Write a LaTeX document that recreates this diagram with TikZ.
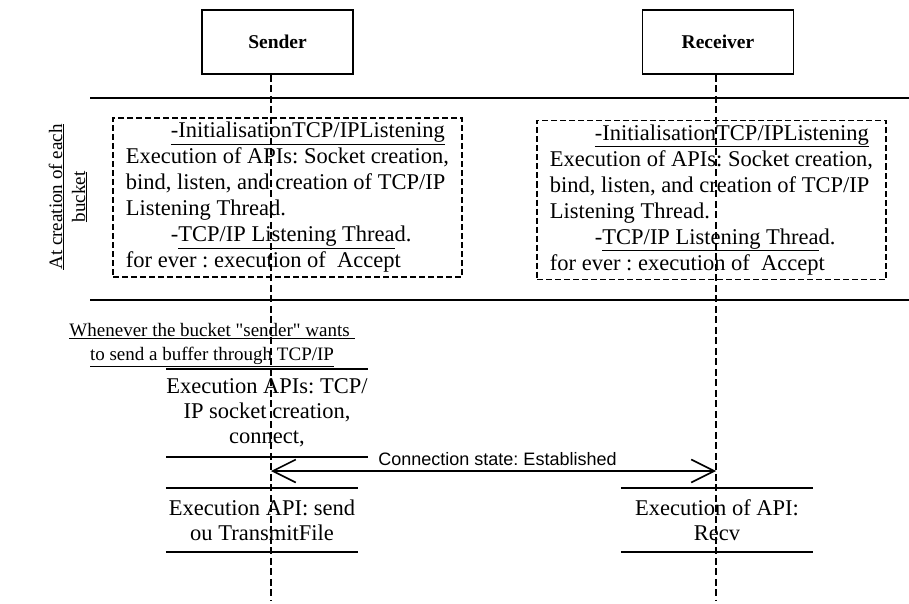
\documentclass[tikz,border=0pt]{standalone}
\usepackage{fontspec}
\setmainfont{Liberation Serif}
\newfontfamily\labelfont{Liberation Sans}
\usetikzlibrary{arrows.meta,positioning,calc}
\frenchspacing
% straight double quote, bypassing the TeX ligature mapping
\newcommand{\sq}{\XeTeXglyph\XeTeXcharglyph"22\relax}

\begin{document}
\begin{tikzpicture}[x=1pt,y=-1pt]
    % Define styles
    \tikzstyle{actor}=[rectangle, draw, line width=1.6pt, minimum width=151pt, minimum height=64pt, font=\fontsize{19.5}{22}\selectfont\bfseries]
    \tikzstyle{lifeline}=[line width=1.6pt, dash pattern=on 7pt off 3.5pt]
    \tikzstyle{phase}=[line width=1.8pt]
    \tikzstyle{init box}=[rectangle, draw, line width=1.5pt, dash pattern=on 6pt off 3pt, minimum width=349pt, minimum height=159pt, align=left, font=\fontsize{22.5}{26}\selectfont]
    \tikzstyle{api}=[align=center, inner sep=0pt, minimum width=192pt, font=\fontsize{22.5}{25}\selectfont]
    \tikzstyle{caption}=[align=center, inner sep=0pt, font=\fontsize{19}{24}\selectfont]
    \tikzstyle{msg}=[line width=1.6pt, {Straight Barb[length=23pt,width=23pt]}-{Straight Barb[length=23pt,width=23pt]}]

    \useasboundingbox (0,0) rectangle (909,604);

    % Participants
    \node[actor] (sender) at (277.5,42) {Sender};
    \node[actor] (receiver) at (718,42) {Receiver};
    \coordinate (sender-end) at (271,600);
    \coordinate (receiver-end) at (716,600);

    % Phase separators
    \draw[phase] (90,98) -- (909,98);
    \draw[phase] (90,300) -- (909,300);
    \node[caption, rotate=90, font=\fontsize{19}{23}\selectfont] (creation) at (68,197)
        {\underline{At creation of each}\\\underline{bucket}};

    % Initialisation on both sides
    \node[init box] (init-s) at (287.5,197.5) {%
        \hspace*{45pt}\underline{-InitialisationTCP/IPListening}\\
        Execution of APIs: Socket creation,\\
        bind, listen, and creation of TCP/IP\\
        Listening Thread.\\
        \hspace*{45pt}-\underline{TCP/IP Listening Threa}d.\\
        for ever : execution of~ Accept};
    \node[init box] (init-r) at (711.5,200) {%
        \hspace*{45pt}\underline{-InitialisationTCP/IPListening}\\
        Execution of APIs: Socket creation,\\
        bind, listen, and creation of TCP/IP\\
        Listening Thread.\\
        \hspace*{45pt}-\underline{TCP/IP Listening Threa}d.\\
        for ever : execution of~ Accept};

    % Sending a buffer
    \node[caption] (whenever) at (212,345)
        {\underline{Whenever the bucket \sq sender\sq{} wants\ }\\\underline{to send a buffer through TCP/IP}};

    \node[api, minimum height=88pt] (connect) at (267,413) {Execution APIs: TCP/\\IP socket creation,\\connect,};
    \draw[phase] (connect.north west) -- (connect.north east);
    \draw[phase] (connect.south west) -- (connect.south east);

    \node[api, minimum height=64pt] (send) at (262,520) {Execution API: send\\ou TransmitFile};
    \draw[phase] (send.north west) -- (send.north east);
    \draw[phase] (send.south west) -- (send.south east);

    \node[api, minimum height=64pt] (recv) at (717,520) {Execution of API:\\Recv};
    \draw[phase] (recv.north west) -- (recv.north east);
    \draw[phase] (recv.south west) -- (recv.south east);

    % Message
    \coordinate (sender-msg) at (271,471);
    \coordinate (receiver-msg) at (716,471);
    \draw[msg] (sender-msg) -- node[above, inner sep=5pt, xshift=4pt, font=\labelfont\fontsize{18}{20}\selectfont] {Connection state: Established} (receiver-msg);

    % Lifelines
    \draw[lifeline] (sender.south -| sender-end) -- (sender-end);
    \draw[lifeline] (receiver.south -| receiver-end) -- (receiver-end);
\end{tikzpicture}
\end{document}
